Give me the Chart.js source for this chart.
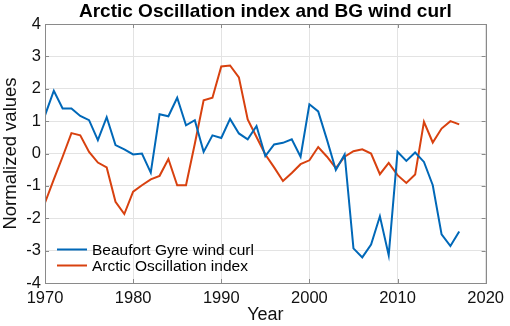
<!DOCTYPE html>
<html>
<head>
<meta charset="utf-8">
<script src="https://cdn.jsdelivr.net/npm/chart.js@4/dist/chart.umd.min.js"></script>
<style>
html,body{margin:0;padding:0;background:#fff;}
#wrap{width:510px;height:326px;position:relative;}
</style>
</head>
<body>
<div id="wrap"><canvas id="c" width="510" height="326"></canvas></div>
<script>
const years = [1970,1971,1972,1973,1974,1975,1976,1977,1978,1979,1980,1981,1982,1983,1984,1985,1986,1987,1988,1989,1990,1991,1992,1993,1994,1995,1996,1997,1998,1999,2000,2001,2002,2003,2004,2005,2006,2007,2008,2009,2010,2011,2012,2013,2014,2015,2016,2017];
const bgWindCurl = [1.18,1.94,1.39,1.39,1.16,1.03,0.41,1.12,0.26,0.13,-0.03,0.00,-0.59,1.21,1.15,1.72,0.87,1.03,0.05,0.56,0.48,1.07,0.62,0.44,0.85,-0.08,0.28,0.33,0.44,-0.10,1.52,1.30,0.42,-0.51,-0.03,-2.93,-3.21,-2.81,-1.94,-3.14,0.05,-0.23,0.03,-0.26,-0.98,-2.50,-2.86,-2.41];
const aoIndex = [-1.52,-0.80,-0.10,0.63,0.56,0.05,-0.28,-0.43,-1.49,-1.87,-1.18,-0.98,-0.80,-0.69,-0.17,-0.98,-0.98,0.30,1.64,1.72,2.69,2.72,2.35,1.05,0.51,-0.03,-0.43,-0.85,-0.60,-0.33,-0.21,0.20,-0.10,-0.45,-0.10,0.07,0.13,0.00,-0.64,-0.29,-0.67,-0.91,-0.65,0.98,0.34,0.77,1.00,0.90];
const xTicks = [1970,1980,1990,2000,2010,2020];
const yTicks = [-4,-3,-2,-1,0,1,2,3,4];
const seriesNames = ['Beaufort Gyre wind curl','Arctic Oscillation index'];
const titleText = 'Arctic Oscillation index and BG wind curl';

const FONT = '"Liberation Sans", Arial, Helvetica, sans-serif';
const BLUE = '#0068B8', RED = '#D8410F';

const decor = {
  id: 'decor',
  afterDatasetsDraw(chart) {
    const ctx = chart.ctx, a = chart.chartArea;
    const xs = chart.scales.x, ys = chart.scales.y;
    ctx.save();
    ctx.strokeStyle = '#8a8a8a';
    ctx.lineWidth = 1;
    ctx.strokeRect(Math.round(a.left)+0.5, Math.round(a.top)+0.5, Math.round(a.right-a.left), Math.round(a.bottom-a.top));
    ctx.beginPath();
    const tl = 4;
    xTicks.forEach(v => {
      const px = Math.round(xs.getPixelForValue(v))+0.5;
      ctx.moveTo(px, a.bottom); ctx.lineTo(px, a.bottom - tl);
      ctx.moveTo(px, a.top); ctx.lineTo(px, a.top + tl);
    });
    yTicks.forEach(v => {
      const py = Math.round(ys.getPixelForValue(v))+0.5;
      ctx.moveTo(a.left, py); ctx.lineTo(a.left + tl, py);
      ctx.moveTo(a.right, py); ctx.lineTo(a.right - tl, py);
    });
    ctx.stroke();
    // legend
    ctx.font = '15.5px ' + FONT;
    ctx.textBaseline = 'middle';
    ctx.fillStyle = '#000';
    const lx0 = a.left + 12, lx1 = a.left + 42, ly = [249.5, 265.5];
    chart.data.datasets.forEach((ds, i) => {
      ctx.strokeStyle = ds.borderColor;
      ctx.lineWidth = 2;
      ctx.beginPath();
      ctx.moveTo(lx0, ly[i]); ctx.lineTo(lx1, ly[i]);
      ctx.stroke();
      ctx.fillText(ds.label, lx1 + 5, ly[i] + 1);
    });
    // title
    ctx.font = 'bold 19px ' + FONT;
    ctx.textAlign = 'center';
    ctx.textBaseline = 'alphabetic';
    ctx.fillText(titleText, (a.left + a.right) / 2, 17);
    ctx.restore();
  }
};

new Chart(document.getElementById('c'), {
  type: 'line',
  data: {
    datasets: [
      { label: seriesNames[0], data: years.map((y, i) => ({x: y, y: bgWindCurl[i]})), borderColor: BLUE, backgroundColor: BLUE, borderWidth: 2, pointRadius: 0, tension: 0, fill: false },
      { label: seriesNames[1], data: years.map((y, i) => ({x: y, y: aoIndex[i]})), borderColor: RED, backgroundColor: RED, borderWidth: 2, pointRadius: 0, tension: 0, fill: false }
    ]
  },
  options: {
    responsive: false,
    animation: false,
    devicePixelRatio: 1,
    layout: { padding: { top: 24, right: 23, left: 0, bottom: 0 } },
    plugins: { legend: { display: false }, title: { display: false }, tooltip: { enabled: false } },
    scales: {
      x: {
        type: 'linear', min: 1970, max: 2020,
        afterBuildTicks: s => { s.ticks = xTicks.map(v => ({value: v})); },
        afterFit: s => { s.height = 43; },
        grid: { color: '#e3e3e3', drawTicks: false },
        border: { display: false },
        ticks: { color: '#111', font: { family: FONT, size: 16.5 }, padding: 6, maxRotation: 0, autoSkip: false, callback: v => String(v) },
        title: { display: true, text: 'Year', color: '#111', font: { family: FONT, size: 18 }, padding: { top: 0, bottom: 0 } }
      },
      y: {
        type: 'linear', min: -4, max: 4,
        afterBuildTicks: s => { s.ticks = yTicks.map(v => ({value: v})); },
        afterFit: s => { s.width = 45; },
        grid: { color: '#e3e3e3', drawTicks: false },
        border: { display: false },
        ticks: { color: '#111', font: { family: FONT, size: 16.5 }, padding: 4, autoSkip: false, callback: v => String(v) },
        title: { display: true, text: 'Normalized values', color: '#111', font: { family: FONT, size: 18.5 }, padding: { top: 0, bottom: 0 } }
      }
    }
  },
  plugins: [decor]
});
</script>
</body>
</html>
